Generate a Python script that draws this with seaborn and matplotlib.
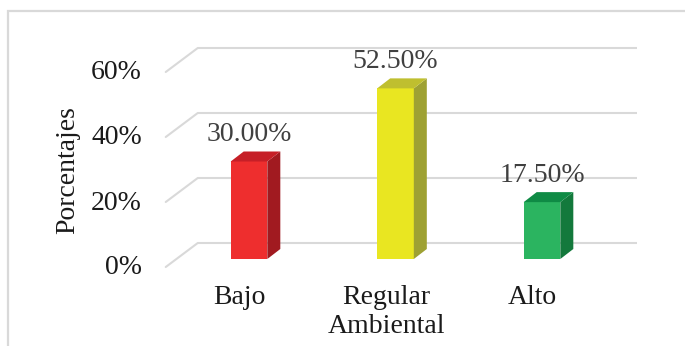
import matplotlib
matplotlib.use("Agg")
import matplotlib.pyplot as plt
from matplotlib.patches import Polygon, Rectangle
import seaborn as sns
import pandas as pd

# Data
categories = ["Bajo", "Regular\nAmbiental", "Alto"]
values = [30.0, 52.5, 17.5]
value_labels = ["30.00%", "52.50%", "17.50%"]
ytick_vals = [0, 20, 40, 60]
ytick_labels = ["0%", "20%", "40%", "60%"]

front_colors = ["#EE2E2E", "#E9E621", "#2BB460"]
side_colors = ["#A11A20", "#9EA133", "#13793C"]
top_colors = ["#C61F27", "#BFBF2F", "#0F8B45"]
grid_color = "#D9D9D9"

sns.set_theme(style="white")
plt.rcParams["font.family"] = ["Liberation Serif", "DejaVu Serif"]
FS = 20

W, H = 685, 346
fig = plt.figure(figsize=(W / 100, H / 100), dpi=100)
fig.patch.set_facecolor("white")

# chart-area border (runs off the right and bottom edges)
fig.patches.append(Rectangle((7.5 / W, -0.2), 1.2, 1.2 - 11 / H,
                             transform=fig.transFigure, fill=False,
                             edgecolor=grid_color, linewidth=1.6))

ax = fig.add_axes([175.75 / W, 87 / H, 439.5 / W, 195 / H])

df = pd.DataFrame({"cat": categories, "val": values})
sns.barplot(data=df, x="cat", y="val", hue="cat", palette=front_colors,
            width=0.25, legend=False, ax=ax, saturation=1, zorder=3,
            edgecolor="none")
ax.set_xlim(-0.5, 2.5)
ax.set_ylim(0, 60)
ax.set_axis_off()


def shift(x, y, dx, dy):
    """Move a data point by a pixel offset and return data coords."""
    px, py = ax.transData.transform((x, y))
    return tuple(ax.transData.inverted().transform((px + dx, py + dy)))


# back wall gridlines and floor/side diagonals
BACK = (22, 16)
FRONT = (-10, -8)
for v in ytick_vals:
    b0 = shift(-0.5, v, *BACK)
    b1 = shift(2.5, v, *BACK)
    f0 = shift(-0.5, v, *FRONT)
    ax.plot([b0[0], b1[0]], [b0[1], b1[1]], color=grid_color, lw=1.5,
            clip_on=False, zorder=1, solid_capstyle="butt")
    ax.plot([f0[0], b0[0]], [f0[1], b0[1]], color=grid_color, lw=1.5,
            clip_on=False, zorder=1)

# depth faces of each column
DX, DY = 13, 10
bars = sorted(ax.patches, key=lambda p: p.get_x())
for i, p in enumerate(bars):
    x0 = p.get_x()
    x1 = x0 + p.get_width()
    h = p.get_height()
    side = [(x1, 0), (x1, h), shift(x1, h, DX, DY), shift(x1, 0, DX, DY)]
    top = [(x0, h), (x1, h), shift(x1, h, DX, DY), shift(x0, h, DX, DY)]
    ax.add_patch(Polygon(side, closed=True, facecolor=side_colors[i],
                         edgecolor="none", zorder=3, clip_on=False))
    ax.add_patch(Polygon(top, closed=True, facecolor=top_colors[i],
                         edgecolor="none", zorder=3, clip_on=False))
    ax.annotate(value_labels[i], xy=(x0 + p.get_width() / 2, h),
                xytext=(0, 27), textcoords="offset pixels",
                ha="center", va="center", fontsize=FS, color="#404040",
                annotation_clip=False, zorder=5)

# value axis labels on the front plane
for v, lab in zip(ytick_vals, ytick_labels):
    ax.annotate(lab, xy=(-0.5, v), xytext=(-34, -9),
                textcoords="offset pixels", ha="right", va="center",
                fontsize=FS, color="#1a1a1a", annotation_clip=False)

# category labels
for i, cat in enumerate(categories):
    ax.annotate(cat, xy=(i, 0), xytext=(-9.5, -26),
                textcoords="offset pixels", ha="center", va="top",
                multialignment="center", linespacing=1.22,
                fontsize=FS, color="#1a1a1a", annotation_clip=False)

fig.text(68 / W, 1 - 170 / H, "Porcentajes", rotation=90, ha="center",
         va="center", fontsize=FS, color="#1a1a1a")

fig.savefig("out.png", dpi=100, facecolor="white")
